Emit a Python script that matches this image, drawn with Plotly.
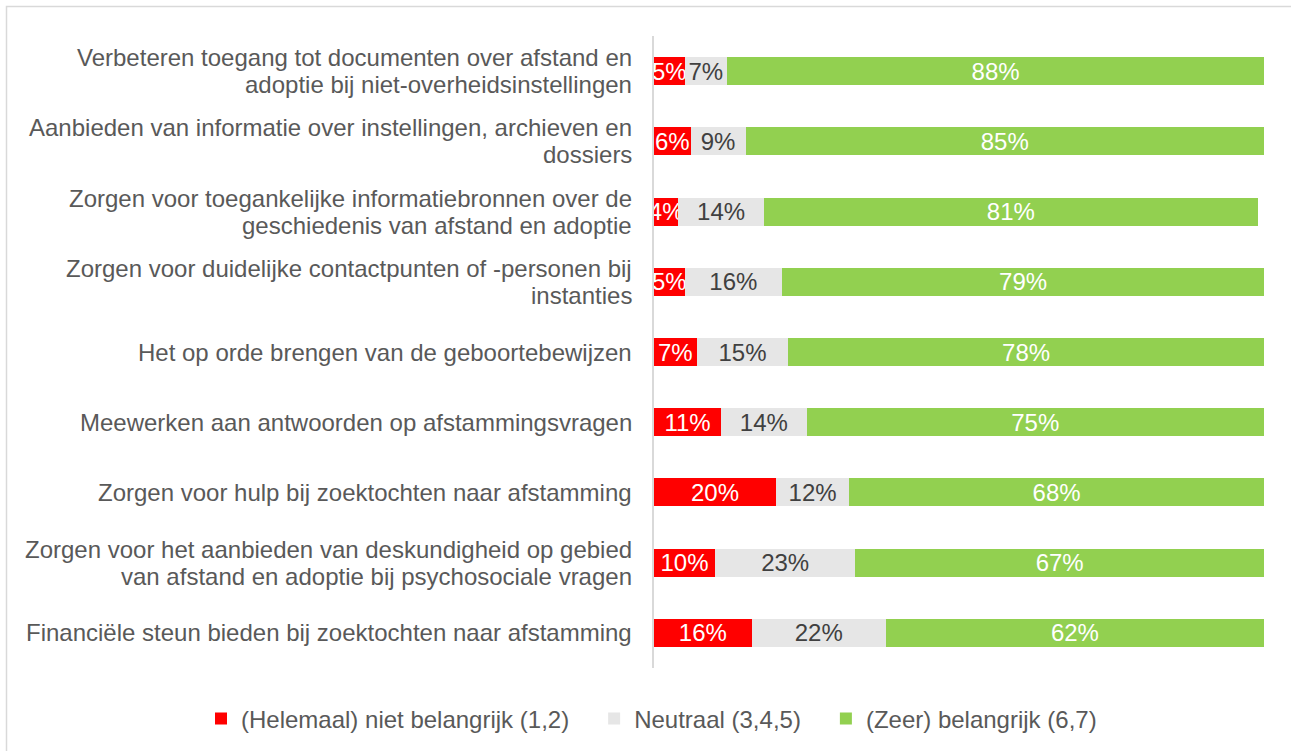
import plotly.graph_objects as go

categories = [
    "Verbeteren toegang tot documenten over afstand en<br>adoptie bij niet-overheidsinstellingen",
    "Aanbieden van informatie over instellingen, archieven en<br>dossiers",
    "Zorgen voor toegankelijke informatiebronnen over de<br>geschiedenis van afstand en adoptie",
    "Zorgen voor duidelijke contactpunten of -personen bij<br>instanties",
    "Het op orde brengen van de geboortebewijzen",
    "Meewerken aan antwoorden op afstammingsvragen",
    "Zorgen voor hulp bij zoektochten naar afstamming",
    "Zorgen voor het aanbieden van deskundigheid op gebied<br>van afstand en adoptie bij psychosociale vragen",
    "Financiële steun bieden bij zoektochten naar afstamming",
]
niet_belangrijk = [5, 6, 4, 5, 7, 11, 20, 10, 16]
neutraal = [7, 9, 14, 16, 15, 14, 12, 23, 22]
belangrijk = [88, 85, 81, 79, 78, 75, 68, 67, 62]

series = [
    ("(Helemaal) niet belangrijk (1,2)", niet_belangrijk, "#ff0000", "#ffffff"),
    ("Neutraal (3,4,5)", neutraal, "#e6e6e6", "#404040"),
    ("(Zeer) belangrijk (6,7)", belangrijk, "#92d050", "#ffffff"),
]

FONT = "Liberation Sans, Arial, sans-serif"
W, H = 1291, 751
ML, MR, MT, MB = 654, 27, 36, 83
LABEL_SIZE = 24
LINE_GAP = 27
PAD = "\u00a0\u00a0\u00a0"

fig = go.Figure()
for name, vals, color, tcol in series:
    fig.add_trace(go.Bar(
        y=categories, x=vals, name=name + PAD, orientation="h",
        marker=dict(color=color, line=dict(width=0)),
        text=[f"{v}%" for v in vals], textposition="inside",
        insidetextanchor="middle", constraintext="none", textangle=0,
        textfont=dict(color=tcol, size=LABEL_SIZE, family=FONT),
        cliponaxis=True, hoverinfo="skip",
    ))

# category labels with tight line spacing
for cat in categories:
    lines = cat.split("<br>")
    n = len(lines)
    for i, line in enumerate(lines):
        offset = ((n - 1) / 2 - i) * LINE_GAP
        fig.add_annotation(
            xref="paper", yref="y", x=0, y=cat, text=line,
            xanchor="right", yanchor="middle", xshift=-20, yshift=offset,
            showarrow=False, align="right",
            font=dict(size=LABEL_SIZE, color="#595959", family=FONT),
        )

pw = W - ML - MR
ph = H - MT - MB
fig.add_shape(type="rect", xref="paper", yref="paper",
              x0=(6.5 - ML) / pw, x1=(W + 10 - ML) / pw,
              y0=(H - MB - (H + 10)) / ph, y1=(H - MB - 6.5) / ph,
              line=dict(color="#d9d9d9", width=1.5), layer="below")

fig.update_layout(
    width=W, height=H,
    margin=dict(l=ML, r=MR, t=MT, b=MB, autoexpand=False),
    barmode="stack", bargap=0.6,
    plot_bgcolor="white", paper_bgcolor="white",
    font=dict(family=FONT, color="#595959", size=LABEL_SIZE),
    uniformtext=dict(minsize=LABEL_SIZE, mode="show"),
    xaxis=dict(range=[0, 100], visible=False, fixedrange=True),
    yaxis=dict(autorange="reversed", showline=True, linecolor="#d9d9d9", linewidth=2,
               showgrid=False, ticks="", showticklabels=False),
    legend=dict(orientation="h", x=(201 - ML) / pw, xref="paper", xanchor="left",
                y=(H - MB - 719) / ph, yref="paper", yanchor="middle",
                font=dict(size=LABEL_SIZE, color="#595959", family=FONT),
                itemwidth=30, traceorder="normal"),
    showlegend=True,
)

fig.write_html("out.html", config={"displayModeBar": False},
               post_script="document.body.style.margin='0';document.body.style.overflow='hidden';")
